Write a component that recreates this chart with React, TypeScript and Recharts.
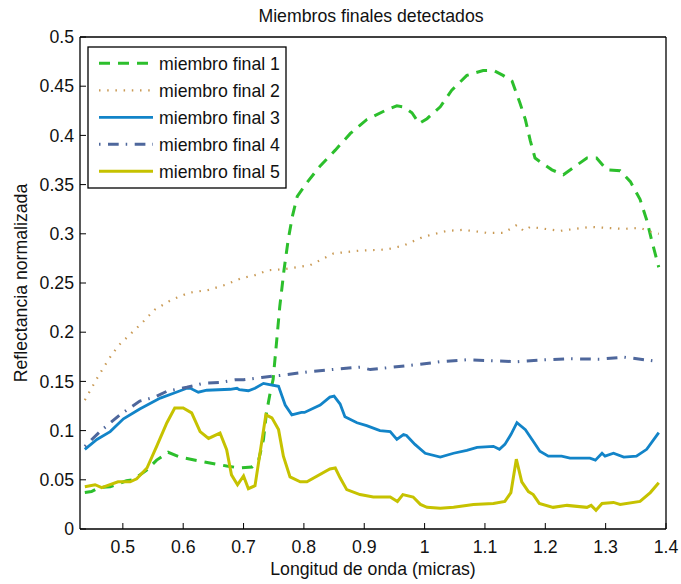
import React from "react";
import { LineChart, Line, XAxis, YAxis } from "recharts";

const FONT = "'Liberation Sans', Arial, Helvetica, sans-serif";
const FS = 17.7;

const X_TICKS = [0.5, 0.6, 0.7, 0.8, 0.9, 1, 1.1, 1.2, 1.3, 1.4];
const Y_TICKS = [0, 0.05, 0.1, 0.15, 0.2, 0.25, 0.3, 0.35, 0.4, 0.45, 0.5];

// miembro final 1
const wl1 = [0.437, 0.448, 0.46, 0.479, 0.506, 0.517, 0.54, 0.556, 0.575, 0.595, 0.628, 0.672, 0.694, 0.714, 0.725, 0.733, 0.738, 0.744, 0.749, 0.755, 0.76, 0.767, 0.774, 0.781, 0.789, 0.805, 0.827, 0.852, 0.877, 0.904, 0.937, 0.954, 0.965, 0.979, 0.991, 1.004, 1.026, 1.045, 1.07, 1.097, 1.114, 1.13, 1.145, 1.158, 1.167, 1.175, 1.183, 1.194, 1.211, 1.23, 1.246, 1.269, 1.285, 1.302, 1.324, 1.341, 1.357, 1.368, 1.376, 1.388];
const ref1 = [0.037, 0.038, 0.042, 0.043, 0.049, 0.05, 0.06, 0.07, 0.078, 0.073, 0.069, 0.064, 0.062, 0.063, 0.07, 0.091, 0.118, 0.138, 0.152, 0.192, 0.226, 0.263, 0.294, 0.318, 0.338, 0.352, 0.369, 0.385, 0.402, 0.416, 0.426, 0.43, 0.429, 0.423, 0.412, 0.417, 0.429, 0.446, 0.461, 0.466, 0.466, 0.461, 0.455, 0.433, 0.416, 0.395, 0.377, 0.372, 0.365, 0.36, 0.367, 0.377, 0.377, 0.365, 0.364, 0.353, 0.335, 0.314, 0.294, 0.266];

// miembro final 2
const wl2 = [0.437, 0.459, 0.476, 0.492, 0.509, 0.531, 0.553, 0.581, 0.609, 0.642, 0.669, 0.697, 0.719, 0.741, 0.767, 0.81, 0.849, 0.893, 0.937, 0.965, 0.998, 1.037, 1.064, 1.103, 1.131, 1.153, 1.164, 1.175, 1.225, 1.274, 1.302, 1.33, 1.357, 1.38, 1.388];
const ref2 = [0.131, 0.155, 0.172, 0.186, 0.196, 0.209, 0.223, 0.233, 0.24, 0.243, 0.248, 0.255, 0.258, 0.263, 0.264, 0.268, 0.28, 0.283, 0.284, 0.288, 0.297, 0.303, 0.304, 0.301, 0.301, 0.309, 0.303, 0.307, 0.303, 0.307, 0.306, 0.305, 0.306, 0.301, 0.3];

// miembro final 3
const wl3 = [0.437, 0.457, 0.479, 0.501, 0.528, 0.562, 0.584, 0.606, 0.612, 0.625, 0.639, 0.678, 0.689, 0.693, 0.708, 0.719, 0.733, 0.741, 0.758, 0.769, 0.78, 0.796, 0.801, 0.827, 0.843, 0.85, 0.86, 0.868, 0.888, 0.904, 0.926, 0.943, 0.954, 0.965, 0.97, 0.984, 1.001, 1.026, 1.048, 1.07, 1.087, 1.114, 1.124, 1.133, 1.143, 1.153, 1.167, 1.178, 1.191, 1.205, 1.227, 1.241, 1.274, 1.283, 1.294, 1.299, 1.313, 1.33, 1.351, 1.368, 1.388];
const ref3 = [0.081, 0.091, 0.099, 0.112, 0.122, 0.133, 0.138, 0.143, 0.143, 0.139, 0.141, 0.142, 0.143, 0.1415, 0.1405, 0.143, 0.148, 0.147, 0.145, 0.126, 0.116, 0.1185, 0.1185, 0.126, 0.134, 0.135, 0.127, 0.114, 0.108, 0.105, 0.1, 0.099, 0.091, 0.096, 0.095, 0.086, 0.077, 0.073, 0.077, 0.08, 0.083, 0.084, 0.081, 0.086, 0.096, 0.108, 0.101, 0.091, 0.079, 0.074, 0.074, 0.072, 0.072, 0.07, 0.077, 0.074, 0.077, 0.073, 0.074, 0.081, 0.098];

// miembro final 4
const wl4 = [0.437, 0.462, 0.495, 0.528, 0.553, 0.573, 0.606, 0.633, 0.661, 0.686, 0.7, 0.73, 0.76, 0.81, 0.854, 0.893, 0.91, 0.948, 0.987, 1.026, 1.07, 1.114, 1.153, 1.197, 1.241, 1.291, 1.33, 1.374, 1.388];
const ref4 = [0.084, 0.099, 0.116, 0.13, 0.134, 0.14, 0.144, 0.148, 0.149, 0.1516, 0.1516, 0.154, 0.156, 0.16, 0.1625, 0.1645, 0.162, 0.1645, 0.167, 0.17, 0.172, 0.171, 0.17, 0.172, 0.173, 0.1726, 0.1747, 0.1713, 0.17];

// miembro final 5
const wl5 = [0.437, 0.454, 0.465, 0.492, 0.512, 0.523, 0.54, 0.556, 0.573, 0.586, 0.6, 0.614, 0.628, 0.642, 0.661, 0.672, 0.68, 0.69, 0.7, 0.708, 0.719, 0.737, 0.747, 0.758, 0.766, 0.777, 0.794, 0.805, 0.843, 0.852, 0.86, 0.871, 0.893, 0.915, 0.943, 0.955, 0.964, 0.981, 0.993, 1.004, 1.026, 1.048, 1.081, 1.114, 1.133, 1.143, 1.152, 1.161, 1.172, 1.18, 1.19, 1.213, 1.236, 1.269, 1.276, 1.284, 1.294, 1.313, 1.324, 1.357, 1.374, 1.388];
const ref5 = [0.043, 0.045, 0.042, 0.048, 0.048, 0.051, 0.062, 0.084, 0.108, 0.123, 0.123, 0.118, 0.099, 0.092, 0.0975, 0.0805, 0.055, 0.045, 0.054, 0.041, 0.044, 0.116, 0.113, 0.101, 0.074, 0.053, 0.048, 0.048, 0.061, 0.062, 0.052, 0.04, 0.035, 0.0325, 0.0325, 0.028, 0.035, 0.0325, 0.025, 0.022, 0.021, 0.022, 0.025, 0.026, 0.028, 0.037, 0.071, 0.048, 0.038, 0.035, 0.026, 0.022, 0.024, 0.022, 0.024, 0.019, 0.026, 0.027, 0.025, 0.028, 0.037, 0.047];

const toPoints = (xs: number[], ys: number[]) => xs.map((x, i) => ({ x, y: ys[i] }));

const series = [
    { name: "miembro final 1", data: toPoints(wl1, ref1), color: "#2cbf2c", width: 3, dash: "11 8" },
    { name: "miembro final 2", data: toPoints(wl2, ref2), color: "#c99a55", width: 2.2, dash: "1.5 6.7" },
    { name: "miembro final 3", data: toPoints(wl3, ref3), color: "#1284c8", width: 2.8, dash: undefined },
    { name: "miembro final 4", data: toPoints(wl4, ref4), color: "#4e679c", width: 3, dash: "1.5 7.5 10.7 7" },
    { name: "miembro final 5", data: toPoints(wl5, ref5), color: "#c6c200", width: 3, dash: undefined },
];

const tickStyle = { fontFamily: FONT, fontSize: FS, fill: "#111" };

function ChartLegend() {
    return (
        <svg
            width={200}
            height={143}
            style={{ position: "absolute", left: 87, top: 46 }}
        >
            <rect x={1} y={1} width={198} height={141} fill="#fff" stroke="#000" strokeWidth={1.3} />
            {series.map((s, i) => {
                const cy = 17.3 + i * 27;
                return (
                    <g key={s.name}>
                        <line x1={12} x2={66} y1={cy} y2={cy} stroke={s.color} strokeWidth={s.width} strokeDasharray={s.dash} />
                        <text x={72} y={cy + 7} fontFamily={FONT} fontSize={FS} fill="#111">
                            {s.name}
                        </text>
                    </g>
                );
            })}
        </svg>
    );
}

export default function App() {
    return (
        <div style={{ position: "absolute", left: 0, top: 0, width: 681, height: 584, background: "#fff" }}>
            <LineChart width={681} height={584} margin={{ top: 36, right: 14, left: 0, bottom: 0 }}>
                <XAxis
                    type="number"
                    dataKey="x"
                    domain={[0.429, 1.4]}
                    ticks={X_TICKS}
                    allowDataOverflow
                    height={55}
                    tickSize={-6}
                    tickMargin={17}
                    tick={tickStyle}
                    axisLine={{ stroke: "#000", strokeWidth: 1.3 }}
                    tickLine={{ stroke: "#000", strokeWidth: 1 }}
                    label={{
                        content: (p: any) => {
                            const vb = p.viewBox || { x: 80, y: 529, width: 586, height: 55 };
                            return (
                                <text x={vb.x + vb.width / 2} y={vb.y + 46} textAnchor="middle" fontFamily={FONT} fontSize={FS} fill="#111">
                                    Longitud de onda (micras)
                                </text>
                            );
                        },
                    }}
                />
                <XAxis
                    xAxisId="top"
                    orientation="top"
                    type="number"
                    dataKey="x"
                    domain={[0.429, 1.4]}
                    ticks={X_TICKS}
                    allowDataOverflow
                    height={1}
                    tickSize={-6}
                    tick={false}
                    axisLine={{ stroke: "#000", strokeWidth: 1.3 }}
                    tickLine={{ stroke: "#000", strokeWidth: 1 }}
                    label={{
                        content: (p: any) => {
                            const vb = p.viewBox || { x: 80, y: 36, width: 586, height: 1 };
                            return (
                                <text x={vb.x + vb.width / 2 - 2} y={vb.y - 14} textAnchor="middle" fontFamily={FONT} fontSize={FS} fill="#111">
                                    Miembros finales detectados
                                </text>
                            );
                        },
                    }}
                />
                <YAxis
                    type="number"
                    domain={[0, 0.5]}
                    ticks={Y_TICKS}
                    allowDataOverflow
                    width={80}
                    tickSize={-6}
                    tickMargin={12}
                    tick={tickStyle}
                    axisLine={{ stroke: "#000", strokeWidth: 1.3 }}
                    tickLine={{ stroke: "#000", strokeWidth: 1 }}
                    label={{
                        content: (p: any) => {
                            const vb = p.viewBox || { x: 0, y: 37, width: 80, height: 492 };
                            const x = vb.x + 27;
                            const y = vb.y + vb.height / 2;
                            return (
                                <text x={x} y={y} transform={`rotate(-90, ${x}, ${y})`} textAnchor="middle" fontFamily={FONT} fontSize={FS} fill="#111">
                                    Reflectancia normalizada
                                </text>
                            );
                        },
                    }}
                />
                <YAxis
                    yAxisId="right"
                    orientation="right"
                    type="number"
                    domain={[0, 0.5]}
                    ticks={Y_TICKS}
                    allowDataOverflow
                    width={1}
                    tickSize={-6}
                    tick={false}
                    axisLine={{ stroke: "#000", strokeWidth: 1.3 }}
                    tickLine={{ stroke: "#000", strokeWidth: 1 }}
                />
                {series.map((s) => (
                    <Line
                        key={s.name}
                        data={s.data}
                        dataKey="y"
                        type="linear"
                        stroke={s.color}
                        strokeWidth={s.width}
                        strokeDasharray={s.dash}
                        dot={false}
                        activeDot={false}
                        isAnimationActive={false}
                    />
                ))}
            </LineChart>
            <ChartLegend />
        </div>
    );
}
